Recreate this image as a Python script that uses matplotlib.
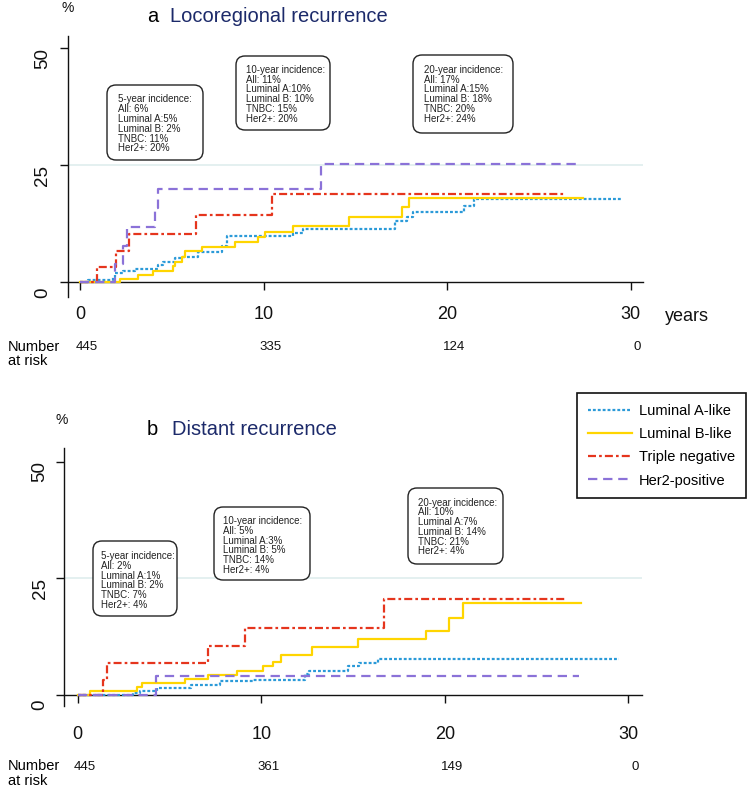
import matplotlib
matplotlib.use('Agg')
import matplotlib.pyplot as plt
from matplotlib.patches import FancyBboxPatch
from matplotlib import transforms, font_manager

plt.rcParams['font.family'] = ['Liberation Sans', 'DejaVu Sans']

W, H, DPI = 749, 788, 100

# ---------------- data ----------------
groups = ['Luminal A-like', 'Luminal B-like', 'Triple negative', 'Her2-positive']

# (a) Locoregional recurrence: cumulative incidence (%) step curves
loco_lumA_t = [0, 0.45, 1.82, 1.91, 2.36, 3.0, 4.27, 4.54, 5.18, 5.54, 6.45, 7.72, 7.99,
               11.62, 12.17, 17.17, 17.8, 18.17, 20.9, 21.45, 29.5]
loco_lumA_y = [0, 0.4, 1.2, 1.9, 2.5, 2.9, 3.7, 4.3, 5.2, 5.5, 6.4, 7.8, 10.0,
               10.6, 11.4, 13.1, 13.9, 15.0, 16.3, 17.9, 17.9]
loco_lumB_t = [0, 2.18, 3.18, 4.0, 5.08, 5.18, 5.54, 5.72, 6.63, 8.45, 9.72, 10.08,
               11.62, 14.68, 17.53, 17.95, 27.4]
loco_lumB_y = [0, 0.8, 1.6, 2.5, 3.5, 4.4, 5.5, 6.7, 7.6, 8.7, 9.75, 10.7,
               12.1, 14.0, 16.0, 18.1, 18.1]
loco_tnbc_t = [0, 0.91, 1.94, 2.69, 6.3, 10.44, 26.4]
loco_tnbc_y = [0, 3.2, 6.8, 10.3, 14.3, 18.8, 18.8]
loco_her2_t = [0, 1.91, 2.36, 2.54, 4.09, 4.27, 13.13, 27.07]
loco_her2_y = [0, 4.0, 7.8, 11.8, 15.8, 19.9, 25.3, 25.3]

# (b) Distant recurrence
dist_lumA_t = [0, 3.03, 3.4, 4.3, 6.2, 7.75, 9.57, 12.4, 12.6, 14.75, 15.3, 16.38, 29.5]
dist_lumA_y = [0, 0.4, 0.9, 1.5, 2.1, 2.9, 3.2, 4.4, 5.2, 6.2, 6.9, 7.8, 7.8]
dist_lumB_t = [0, 0.67, 3.21, 3.49, 5.85, 7.12, 8.66, 10.1, 10.66, 11.1, 12.75,
               15.26, 18.98, 20.25, 21.0, 27.4]
dist_lumB_y = [0, 0.8, 1.8, 2.5, 3.5, 4.2, 5.2, 6.1, 7.1, 8.5, 10.3,
               12.0, 13.7, 16.4, 19.8, 19.8]
dist_tnbc_t = [0, 1.40, 1.58, 7.12, 9.12, 16.69, 26.56]
dist_tnbc_y = [0, 3.3, 6.9, 10.4, 14.4, 20.6, 20.6]
dist_her2_t = [0, 4.25, 27.3]
dist_her2_y = [0, 4.1, 4.1]

xticks = [0, 10, 20, 30]
yticks = [0, 25, 50]
loco_risk = [445, 335, 124, 0]
dist_risk = [445, 361, 149, 0]

loco_notes = [
    "5-year incidence:\nAll: 6%\nLuminal A:5%\nLuminal B: 2%\nTNBC: 11%\nHer2+: 20%",
    "10-year incidence:\nAll: 11%\nLuminal A:10%\nLuminal B: 10%\nTNBC: 15%\nHer2+: 20%",
    "20-year incidence:\nAll: 17%\nLuminal A:15%\nLuminal B: 18%\nTNBC: 20%\nHer2+: 24%",
]
dist_notes = [
    "5-year incidence:\nAll: 2%\nLuminal A:1%\nLuminal B: 2%\nTNBC: 7%\nHer2+: 4%",
    "10-year incidence:\nAll: 5%\nLuminal A:3%\nLuminal B: 5%\nTNBC: 14%\nHer2+: 4%",
    "20-year incidence:\nAll: 10%\nLuminal A:7%\nLuminal B: 14%\nTNBC: 21%\nHer2+: 4%",
]

# ---------------- style ----------------
colors = ['#2b9ad8', '#ffd500', '#e5351d', '#8b72d8']
dashes = [(1.3, 0.9), None, (3.6, 1.4, 1.2, 1.4), (4.2, 2.6)]
LW = 1.6
navy = '#1c2a6a'

names = {f.name for f in font_manager.fontManager.ttflist}
narrow = 'Liberation Sans Narrow' if 'Liberation Sans Narrow' in names else 'Liberation Sans'

fig = plt.figure(figsize=(W / DPI, H / DPI), dpi=DPI)


def px_axes(left, top, right, bottom):
    return fig.add_axes([left / W, 1 - bottom / H, (right - left) / W, (bottom - top) / H])


def setup(ax, xlim, ylim, label_pad, ylab_dx):
    ax.set_xlim(*xlim)
    ax.set_ylim(*ylim)
    for s in ('top', 'right'):
        ax.spines[s].set_visible(False)
    ax.spines['bottom'].set_position(('data', 0))
    for s in ('left', 'bottom'):
        ax.spines[s].set_linewidth(1.0)
        ax.spines[s].set_color('#111111')
    ax.set_xticks(xticks)
    ax.set_xticklabels([str(v) for v in xticks])
    ax.tick_params(axis='x', direction='out', length=6, width=1.0, labelsize=13, pad=label_pad,
                   colors='#111111')
    ax.set_yticks(yticks)
    ax.tick_params(axis='y', direction='out', length=5.5, width=1.0, labelleft=False,
                   colors='#111111')
    off = transforms.ScaledTranslation(-ylab_dx / DPI, -10 / DPI, fig.dpi_scale_trans)
    for v in yticks:
        ax.text(0, v, str(v), transform=ax.get_yaxis_transform() + off, rotation=90,
                ha='center', va='center', fontsize=13.5, color='#111111')
    ax.axhline(25, color='#e2efef', lw=1.3, zorder=0.5)


def draw_curves(ax, series):
    handles = []
    for (t, y), c, d in zip(series, colors, dashes):
        ln, = ax.step(t, y, where='post', color=c, lw=LW, zorder=3)
        if d is not None:
            ln.set_dashes(d)
        handles.append(ln)
    return handles


def note(x0, y0, x1, y1, tx, ty, text):
    fig.patches.append(FancyBboxPatch((x0 / DPI, (H - y1) / DPI), (x1 - x0) / DPI, (y1 - y0) / DPI,
                                      boxstyle='round,pad=0,rounding_size=0.09',
                                      transform=fig.dpi_scale_trans, fc='white',
                                      ec='#222222', lw=1.0, zorder=1))
    fig.text(tx / W, 1 - ty / H, text, ha='left', va='top', fontsize=7.0, linespacing=0.97,
             color='#222222', zorder=2)


def risk_row(ax, values, y_px):
    tr = transforms.blended_transform_factory(ax.transData, fig.transFigure) + \
        transforms.ScaledTranslation(7 / DPI, 0, fig.dpi_scale_trans)
    for xv, n in zip(xticks, values):
        ax.text(xv, 1 - y_px / H, str(n), transform=tr, ha='center', va='center',
                fontsize=9.5, family=narrow, color='#111111')


# ---------------- panel a ----------------
ax1 = px_axes(68, 36, 643, 297)
setup(ax1, (-0.654, 30.68), (-3.13, 52.63), 11, 25)
draw_curves(ax1, [(loco_lumA_t, loco_lumA_y), (loco_lumB_t, loco_lumB_y),
                  (loco_tnbc_t, loco_tnbc_y), (loco_her2_t, loco_her2_y)])
fig.text(147 / W, 1 - 22 / H, 'a', fontsize=14.5, va='baseline', ha='left', color='black')
fig.text(170 / W, 1 - 22 / H, 'Locoregional recurrence', fontsize=14.5, va='baseline',
         ha='left', color=navy)
fig.text(68 / W, 1 - 8 / H, '%', fontsize=10, ha='center', va='center', color='#111111')
fig.text(665 / W, 1 - 321 / H, 'years', fontsize=13, ha='left', va='baseline', color='#111111')
fig.text(8 / W, 1 - 346.5 / H, 'Number', fontsize=10.5, family=narrow, ha='left', va='center')
fig.text(8 / W, 1 - 361 / H, 'at risk', fontsize=10.5, family=narrow, ha='left', va='center')
risk_row(ax1, loco_risk, 346.5)
note(107, 85, 203, 160, 117.7, 94.5, loco_notes[0])
note(236, 56, 330, 130, 245.7, 64.8, loco_notes[1])
note(413, 55, 513, 133, 424.3, 64.8, loco_notes[2])

# ---------------- panel b ----------------
ax2 = px_axes(64.3, 448.3, 641.7, 706)
setup(ax2, (-0.73, 30.73), (-2.36, 52.83), 16.5, 24.3)
handles = draw_curves(ax2, [(dist_lumA_t, dist_lumA_y), (dist_lumB_t, dist_lumB_y),
                            (dist_tnbc_t, dist_tnbc_y), (dist_her2_t, dist_her2_y)])
fig.text(147 / W, 1 - 435 / H, 'b', fontsize=14.5, va='baseline', ha='left', color='black')
fig.text(172 / W, 1 - 435 / H, 'Distant recurrence', fontsize=14.5, va='baseline',
         ha='left', color=navy)
fig.text(62 / W, 1 - 420 / H, '%', fontsize=10, ha='center', va='center', color='#111111')
fig.text(8 / W, 1 - 766.5 / H, 'Number', fontsize=10.5, family=narrow, ha='left', va='center')
fig.text(8 / W, 1 - 781 / H, 'at risk', fontsize=10.5, family=narrow, ha='left', va='center')
risk_row(ax2, dist_risk, 766.5)
note(93, 541, 177, 616, 100.7, 551.2, dist_notes[0])
note(214, 507, 310, 580, 222.7, 516.2, dist_notes[1])
note(408, 488, 503, 564, 417.7, 497.5, dist_notes[2])

leg = fig.legend(handles, groups, loc='upper left', bbox_to_anchor=(577 / W, 1 - 393 / H),
                 bbox_transform=fig.transFigure, frameon=True, fancybox=False,
                 edgecolor='#111111', framealpha=1, fontsize=10.5, handlelength=3.0,
                 handletextpad=0.5, labelspacing=0.63, borderpad=0.75, borderaxespad=0)
leg.get_frame().set_linewidth(1.2)

fig.savefig('out.png', dpi=DPI)
